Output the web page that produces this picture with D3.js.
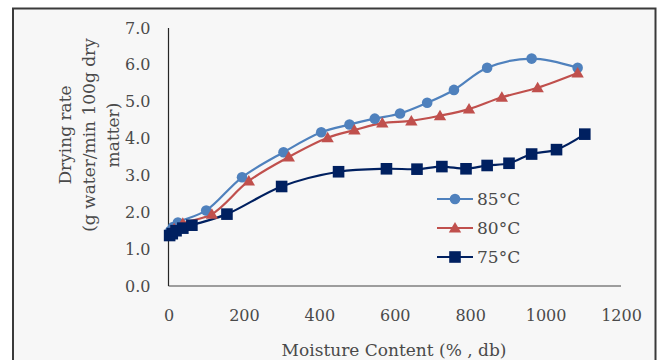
<!DOCTYPE html>
<html>
<head>
<meta charset="utf-8">
<script src="https://cdn.jsdelivr.net/npm/d3@7"></script>
<style>
  html, body { margin: 0; padding: 0; background: #fff; }
  svg { display: block; }
  text { font-family: "DejaVu Serif", serif; fill: #4a4a4a; }
</style>
</head>
<body>
<svg id="chart" width="658" height="360"></svg>
<script>
// ---- Data ----
const seriesNames = ["85°C", "80°C", "75°C"];
const moisture85 = [5, 12, 25, 100, 195, 305, 405, 480, 547, 614, 686, 757, 845, 963, 1085];
const rate85     = [1.5, 1.6, 1.72, 2.05, 2.95, 3.63, 4.17, 4.38, 4.54, 4.68, 4.97, 5.32, 5.92, 6.17, 5.92];
const moisture80 = [5, 15, 38, 115, 213, 319, 422, 493, 567, 644, 720, 797, 884, 979, 1085];
const rate80     = [1.45, 1.55, 1.7, 1.95, 2.85, 3.5, 4.02, 4.23, 4.42, 4.48, 4.62, 4.8, 5.12, 5.38, 5.78];
const moisture75 = [3, 10, 20, 38, 62, 155, 300, 451, 578, 659, 725, 789, 845, 903, 963, 1029, 1104];
const rate75     = [1.37, 1.42, 1.5, 1.57, 1.65, 1.95, 2.7, 3.1, 3.18, 3.17, 3.24, 3.18, 3.27, 3.33, 3.58, 3.7, 4.12];
const xTicks = [0, 200, 400, 600, 800, 1000, 1200];
const yTicks = [0, 1, 2, 3, 4, 5, 6, 7];
const colors = ["#4f81bd", "#c0504d", "#002060"];
const markers = ["circle", "triangle", "square"];

const series = [
  { name: seriesNames[0], x: moisture85, y: rate85 },
  { name: seriesNames[1], x: moisture80, y: rate80 },
  { name: seriesNames[2], x: moisture75, y: rate75 }
];

const svg = d3.select("#chart");

// background panel and frame
svg.append("rect").attr("x", 13).attr("y", 8.5).attr("width", 642.5).attr("height", 400)
  .attr("fill", "#f7f7f7").attr("stroke", "#3a3a3a").attr("stroke-width", 2);

const x = d3.scaleLinear().domain([0, 1200]).range([168.5, 621]);
const y = d3.scaleLinear().domain([0, 7]).range([286, 28]);

// axes
const xAxis = svg.append("g").attr("transform", "translate(0,286)")
  .call(d3.axisBottom(x).tickValues(xTicks).tickSize(0).tickPadding(24).tickFormat(d3.format("d")));
xAxis.select(".domain").attr("stroke", "#7f7f7f").attr("stroke-width", 1.5)
  .attr("d", `M${x(0)},0H${x(1200)}`);
xAxis.selectAll("text").style("font-size", "16px").attr("fill", "#4a4a4a");

const yAxis = svg.append("g").attr("transform", "translate(168.5,0)")
  .call(d3.axisLeft(y).tickValues(yTicks).tickSize(0).tickPadding(18).tickFormat(d3.format(".1f")));
yAxis.select(".domain").attr("stroke", "#262626").attr("stroke-width", 1.2)
  .attr("d", `M0,${y(7)}V${y(0)}`);
yAxis.selectAll("text").style("font-size", "16px").attr("fill", "#4a4a4a");

// axis titles
svg.append("text").attr("x", 394).attr("y", 356).attr("text-anchor", "middle")
  .style("font-size", "17px").text("Moisture Content (% , db)");

const yTitle = svg.append("text").attr("transform", "translate(71,135) rotate(-90)")
  .attr("text-anchor", "middle").style("font-size", "17px");
["Drying rate", "(g water/min 100g dry", "matter)"].forEach((t, i) => {
  yTitle.append("tspan").attr("x", 0).attr("dy", i === 0 ? 0 : 24).text(t);
});

// marker drawing
function drawMarker(g, type, color) {
  if (type === "circle") {
    g.append("circle").attr("r", 5.3).attr("fill", color);
  } else if (type === "triangle") {
    g.append("path").attr("d", "M0,-6L6.2,4.5L-6.2,4.5Z").attr("fill", color);
  } else {
    g.append("rect").attr("x", -5.8).attr("y", -5.8).attr("width", 11.6).attr("height", 11.6).attr("fill", color);
  }
}

const line = d3.line().curve(d3.curveCatmullRom.alpha(0.5)).x(d => x(d[0])).y(d => y(d[1]));

series.forEach((s, i) => {
  const pts = s.x.map((v, k) => [v, s.y[k]]);
  svg.append("path").datum(pts).attr("d", line).attr("fill", "none")
    .attr("stroke", colors[i]).attr("stroke-width", 2.2);
});
series.forEach((s, i) => {
  const pts = s.x.map((v, k) => [v, s.y[k]]);
  pts.forEach(p => {
    const g = svg.append("g").attr("transform", `translate(${x(p[0])},${y(p[1])})`);
    drawMarker(g, markers[i], colors[i]);
  });
});

// legend
const legY = [199, 228, 257];
series.forEach((s, i) => {
  const g = svg.append("g").attr("transform", `translate(0,${legY[i]})`);
  g.append("line").attr("x1", 437).attr("x2", 473).attr("y1", 0).attr("y2", 0)
    .attr("stroke", colors[i]).attr("stroke-width", 2.2);
  const m = g.append("g").attr("transform", "translate(455,0)");
  drawMarker(m, markers[i], colors[i]);
  g.append("text").attr("x", 477).attr("y", 6).style("font-size", "17px").text(s.name);
});
</script>
</body>
</html>
